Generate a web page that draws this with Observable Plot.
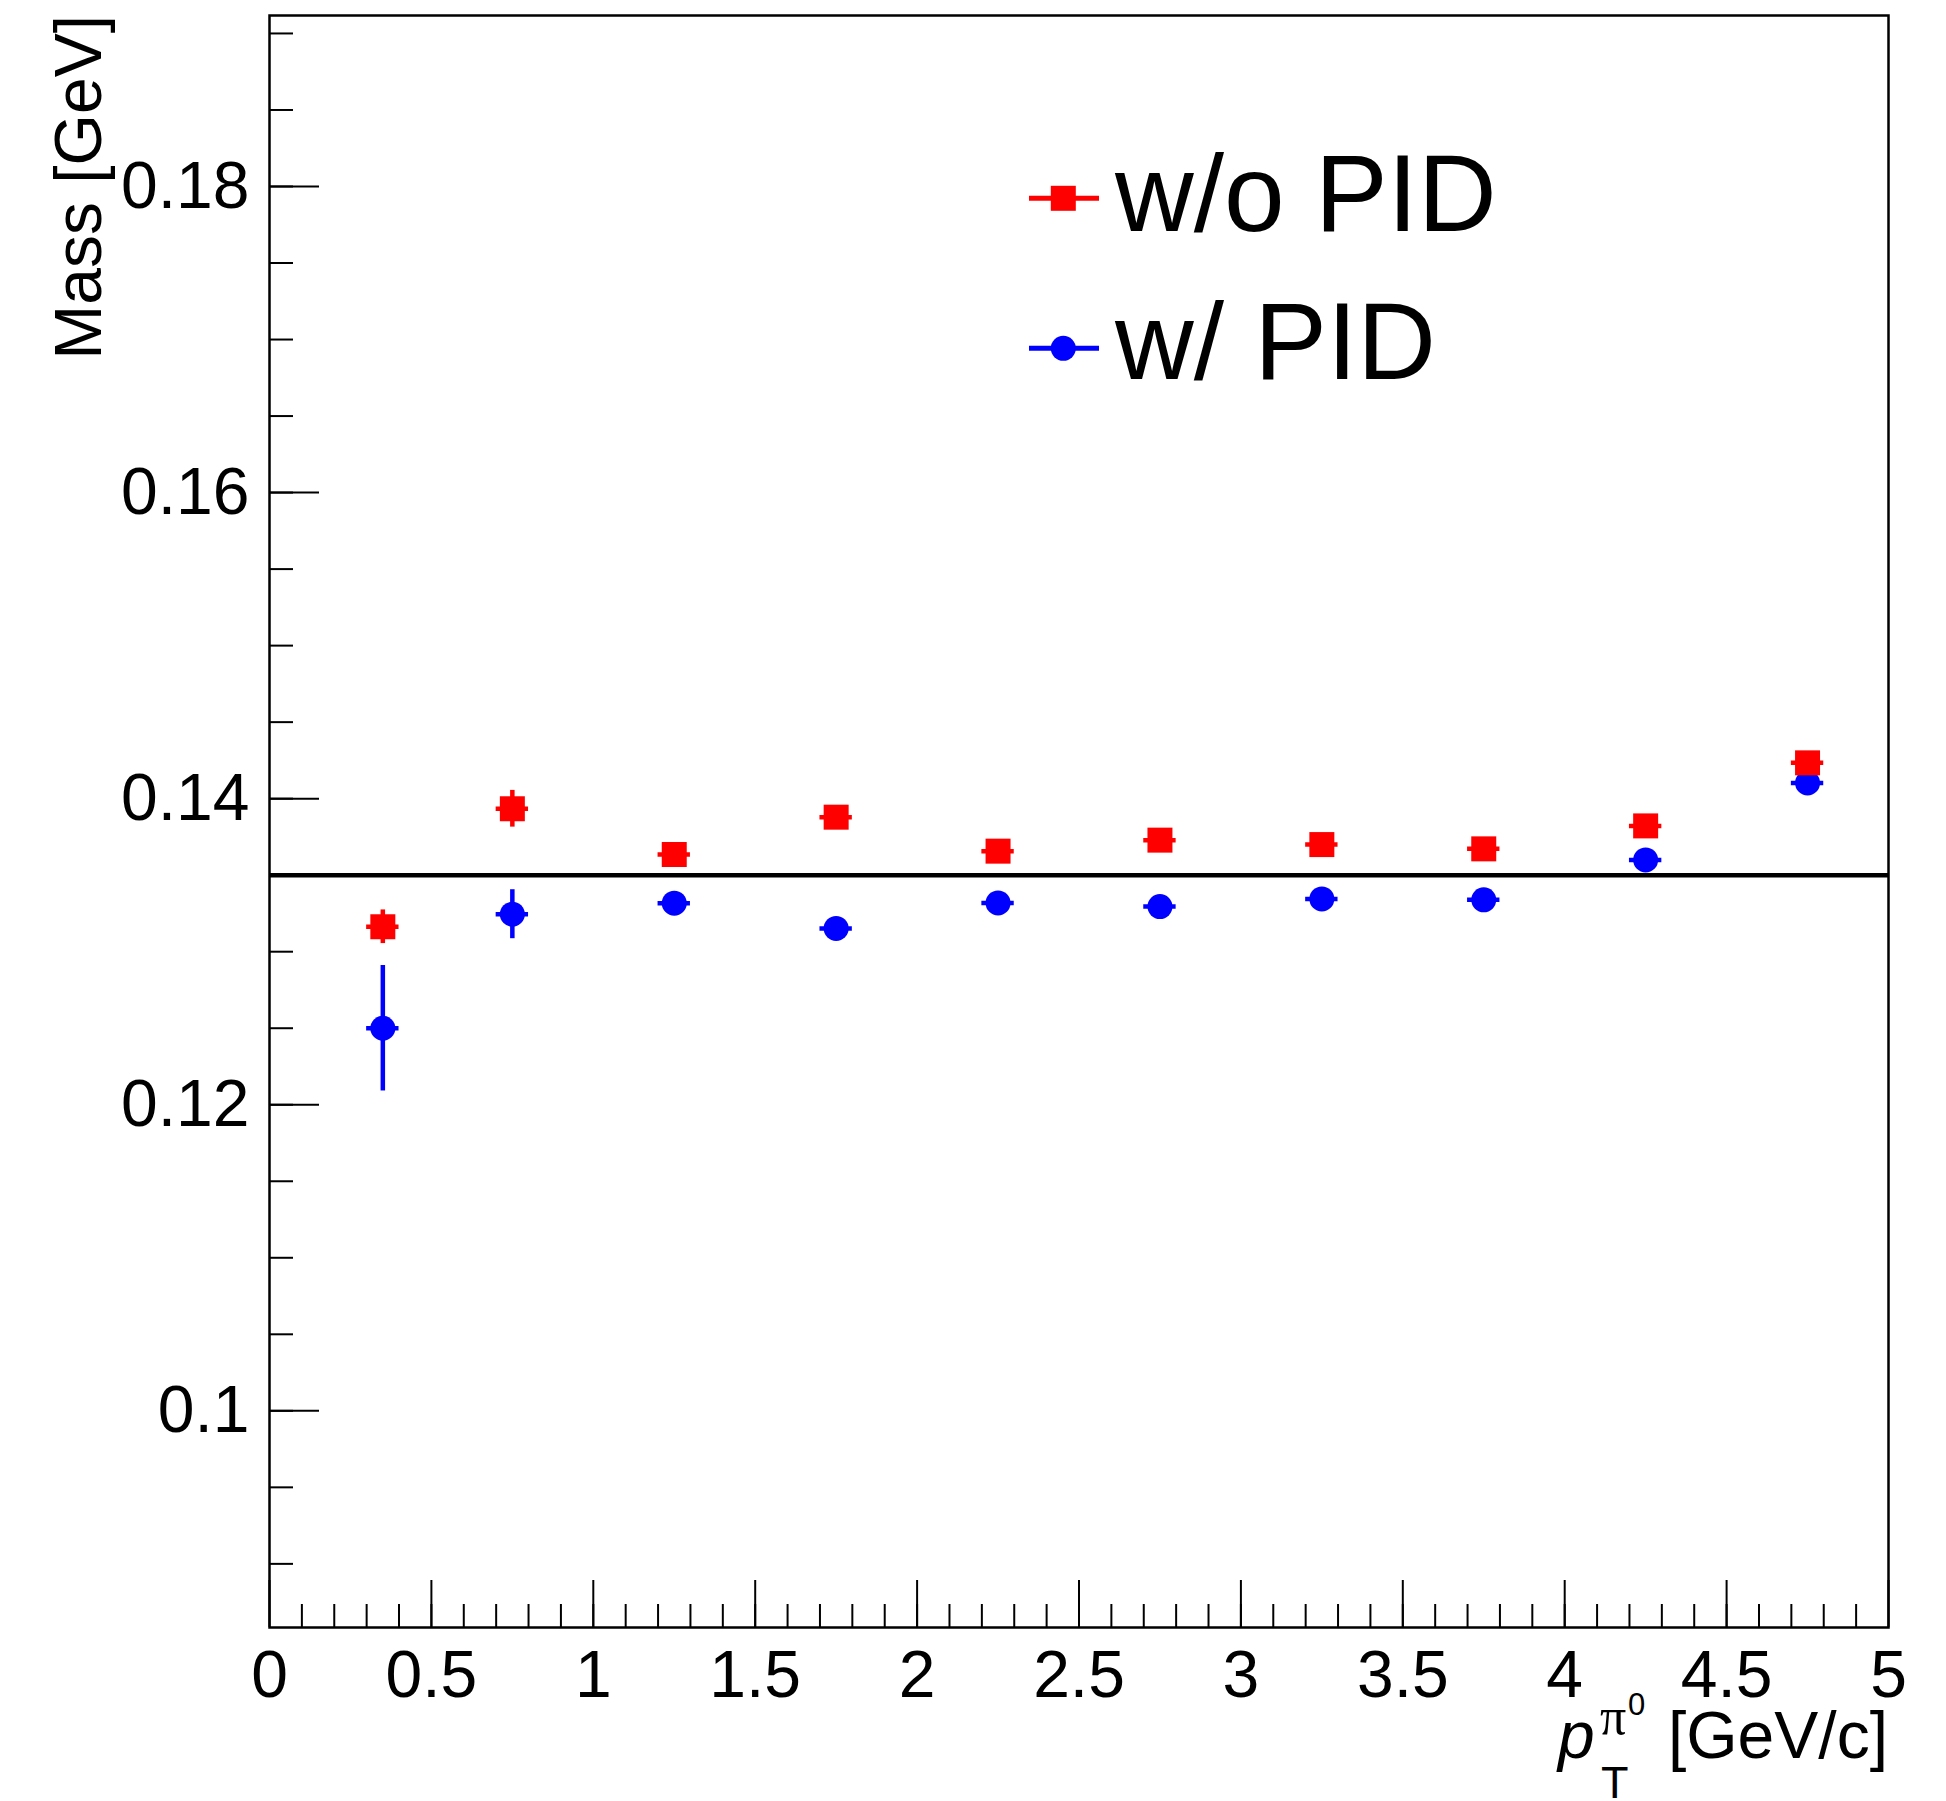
<!DOCTYPE html>
<html><head><meta charset="utf-8">
<script src="https://cdn.jsdelivr.net/npm/d3@7"></script>
<script src="https://cdn.jsdelivr.net/npm/@observablehq/plot@0.6"></script>
<style>html,body{margin:0;padding:0;background:#fff}svg{display:block}</style>
</head><body><div id="chart"></div>
<script>
// ---- data ----
const ptBins      = [0.35, 0.75, 1.25, 1.75, 2.25, 2.75, 3.25, 3.75, 4.25, 4.75];
const ptHalfWidth = [0.05, 0.05, 0.05, 0.05, 0.05, 0.05, 0.05, 0.05, 0.05, 0.05];
const massNoPID   = [0.13163, 0.13934, 0.13635, 0.13879, 0.13657, 0.13729, 0.13700, 0.13672, 0.13822, 0.14234];
const errNoPID    = [0.0011, 0.0012, 0.0006, 0.0006, 0.0006, 0.0006, 0.0006, 0.0006, 0.0006, 0.0006];
const massPID     = [0.12500, 0.13245, 0.13317, 0.13152, 0.13319, 0.13295, 0.13345, 0.13339, 0.13600, 0.14103];
const errPID      = [0.0041, 0.0016, 0.0006, 0.0006, 0.0006, 0.0006, 0.0006, 0.0006, 0.0006, 0.0006];
const refMass     = [0.135];
const seriesNames = ["w/o PID", "w/ PID"];
const xMajorTicks = [0, 0.5, 1, 1.5, 2, 2.5, 3, 3.5, 4, 4.5, 5];
const xTickLabels = ["0", "0.5", "1", "1.5", "2", "2.5", "3", "3.5", "4", "4.5", "5"];
const yMajorTicks = [0.1, 0.12, 0.14, 0.16, 0.18];
const yTickLabels = ["0.1", "0.12", "0.14", "0.16", "0.18"];
const xDomain = [0, 5];
const yDomain = [0.085842, 0.191173];

const xMinorTicks = d3.range(1, 50).map(i => i / 10);
const yMinorTicks = d3.range(18, 39).map(i => i * 0.005);

const rows = (ys, es, name) => ptBins.map((x, i) => ({x, ex: ptHalfWidth[i], y: ys[i], e: es[i], series: name}));
const noPID = rows(massNoPID, errNoPID, seriesNames[0]);
const withPID = rows(massPID, errPID, seriesNames[1]);

const RED = "#ff0000", BLUE = "#0000ff";
const FONT = "'Liberation Sans', Arial, Helvetica, sans-serif";
const xLab = new Map(xMajorTicks.map((t, i) => [t, xTickLabels[i]]));
const yLab = new Map(yMajorTicks.map((t, i) => [t, yTickLabels[i]]));

const svg = Plot.plot({
  width: 1946, height: 1801,
  marginLeft: 269, marginRight: 58, marginTop: 15, marginBottom: 174,
  x: {domain: xDomain},
  y: {domain: yDomain},
  style: {fontFamily: FONT, background: "white", color: "black"},
  marks: [
    Plot.axisX({ticks: xMinorTicks, tickSize: -23, tickFormat: () => "", label: null, strokeWidth: 2}),
    Plot.axisX({ticks: xMajorTicks, tickSize: -47, tickFormat: () => "", label: null, strokeWidth: 2}),
    Plot.axisX({ticks: xMajorTicks, tickSize: 0, tickPadding: 23, tickFormat: d => xLab.get(d), fontSize: 66, label: null}),
    Plot.axisY({ticks: yMinorTicks, tickSize: -24, tickFormat: () => "", label: null, strokeWidth: 2}),
    Plot.axisY({ticks: yMajorTicks, tickSize: -50, tickFormat: () => "", label: null, strokeWidth: 2}),
    Plot.axisY({ticks: yMajorTicks, tickSize: 0, tickPadding: 20, tickFormat: d => yLab.get(d), fontSize: 66, label: null}),
    Plot.ruleY(refMass, {stroke: "black", strokeWidth: 4.5}),
    Plot.ruleX(withPID, {x: "x", y1: d => d.y - d.e, y2: d => d.y + d.e, stroke: BLUE, strokeWidth: 4.5}),
    Plot.ruleY(withPID, {y: "y", x1: d => d.x - d.ex, x2: d => d.x + d.ex, stroke: BLUE, strokeWidth: 4.5}),
    Plot.dot(withPID, {x: "x", y: "y", r: 12.5, symbol: "circle", fill: BLUE}),
    Plot.ruleX(noPID, {x: "x", y1: d => d.y - d.e, y2: d => d.y + d.e, stroke: RED, strokeWidth: 4.5}),
    Plot.ruleY(noPID, {y: "y", x1: d => d.x - d.ex, x2: d => d.x + d.ex, stroke: RED, strokeWidth: 4.5}),
    Plot.dot(noPID, {x: "x", y: "y", r: 14.1, symbol: "square", fill: RED}),
    Plot.frame({stroke: "black", strokeWidth: 2.5})
  ]
});

const s = d3.select(svg);
// Y axis title
s.append("text")
  .attr("transform", "translate(101,15) rotate(-90)")
  .attr("text-anchor", "end")
  .attr("font-family", FONT).attr("font-size", 66).attr("fill", "black")
  .text("Mass [GeV]");

// X axis title: p_T^{pi0} [GeV/c]
const xt = s.append("g").attr("font-family", FONT).attr("fill", "black").attr("text-anchor", "start");
xt.append("text").attr("x", 1558).attr("y", 1758).attr("font-size", 66).attr("font-style", "italic").attr("text-anchor", "start").text("p");
xt.append("text").attr("x", 1600).attr("y", 1734).attr("font-size", 52).attr("text-anchor", "start").attr("font-family", "'Liberation Serif', 'DejaVu Serif', serif").text("π");
xt.append("text").attr("x", 1628).attr("y", 1715).attr("font-size", 31).attr("text-anchor", "start").text("0");
xt.append("text").attr("x", 1601).attr("y", 1798).attr("font-size", 45).attr("text-anchor", "start").text("T");
xt.append("text").attr("x", 1888).attr("y", 1758).attr("font-size", 66).attr("text-anchor", "end").text("[GeV/c]");

// Legend
const leg = [
  {name: seriesNames[0], color: RED, cy: 198.3, base: 231, shape: "square"},
  {name: seriesNames[1], color: BLUE, cy: 348.3, base: 379.3, shape: "circle"}
];
const lg = s.append("g").attr("text-anchor", "start");
for (const e of leg) {
  lg.append("line").attr("x1", 1029).attr("x2", 1099).attr("y1", e.cy).attr("y2", e.cy)
    .attr("stroke", e.color).attr("stroke-width", 5);
  if (e.shape === "square") {
    lg.append("rect").attr("x", 1063.3 - 12.5).attr("y", e.cy - 12.5).attr("width", 25).attr("height", 25).attr("fill", e.color);
  } else {
    lg.append("circle").attr("cx", 1063.3).attr("cy", e.cy).attr("r", 12.5).attr("fill", e.color);
  }
  lg.append("text").attr("x", 1115).attr("y", e.base).attr("text-anchor", "start").attr("font-family", FONT).attr("font-size", 109)
    .attr("fill", "black").text(e.name);
}

document.getElementById("chart").appendChild(svg);
</script>
</body></html>
